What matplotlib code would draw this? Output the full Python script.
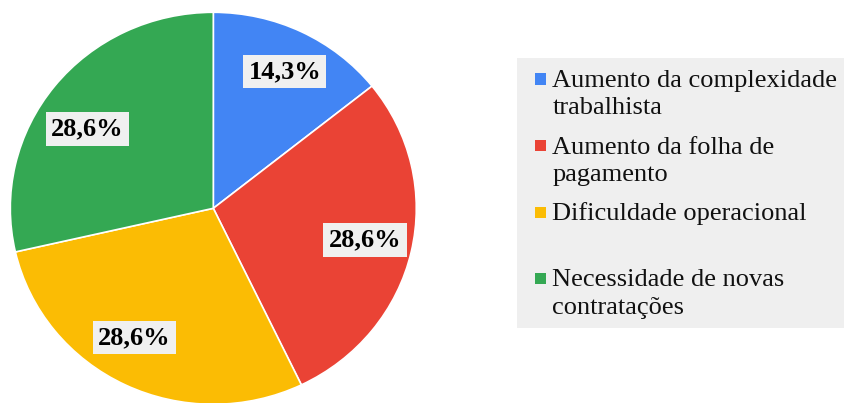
import matplotlib.pyplot as plt
from matplotlib.patches import Rectangle

# data
categories = [
    "Aumento da complexidade\ntrabalhista",
    "Aumento da folha de\npagamento",
    "Dificuldade operacional",
    "Necessidade de novas\ncontratações",
]
shares = [14.3, 28.6, 28.6, 28.6]
colors = ["#4285F4", "#EA4335", "#FBBC04", "#34A853"]

W, H = 845, 403

# where the percentage boxes sit, in pie-axes units (layout only)
label_pos = [(0.352, 0.697), (0.747, -0.162), (-0.389, -0.659),
             (-0.619, 0.406)]


def fx(px):
    return px / W


def fy(py):
    return 1 - py / H


def pct_label(pct):
    return f"{pct:.1f}%".replace(".", ",")


def main():
    plt.rcParams["font.family"] = ["Liberation Serif", "DejaVu Serif"]
    fig = plt.figure(figsize=(W / 100, H / 100), dpi=100)

    # pie axes (slightly squashed vertically like the original)
    ax = fig.add_axes([fx(10.3), fy(404.3), 406 / W, 392 / H])
    wedges, texts, autotexts = ax.pie(
        shares,
        colors=colors,
        startangle=90,
        counterclock=False,
        autopct=pct_label,
        pctdistance=0.77,
        wedgeprops=dict(edgecolor="white", linewidth=1.2),
        textprops=dict(fontsize=19, fontweight="bold", color="black"),
    )
    for t, pos in zip(autotexts, label_pos):
        t.set_position(pos)
        t.set_bbox(dict(boxstyle="square,pad=0.2", facecolor="#F0F0F0",
                        edgecolor="none"))
    ax.set_aspect("auto")
    ax.set_xlim(-1, 1)
    ax.set_ylim(-1, 1)
    ax.axis("off")

    # legend drawn by hand so the swatch sits on the first line
    fig.add_artist(Rectangle((fx(517), fy(328)), fx(845) - fx(517),
                             fy(58) - fy(328), transform=fig.transFigure,
                             facecolor="#EFEFEF", edgecolor="none"))
    first_baselines = [87, 153.5, 220, 286.5]
    line_step = 27.3
    sq = 11
    for label, col, yb in zip(categories, colors, first_baselines):
        fig.add_artist(Rectangle((fx(534.5), fy(yb - 8 + sq / 2)), sq / W,
                                 sq / H, transform=fig.transFigure,
                                 facecolor=col, edgecolor="none"))
        for i, line in enumerate(label.split("\n")):
            fig.text(fx(552.5), fy(yb + i * line_step), line, fontsize=19,
                     ha="left", va="baseline", color="#111111")

    fig.savefig("out.png", dpi=100)


if __name__ == "__main__":
    main()
